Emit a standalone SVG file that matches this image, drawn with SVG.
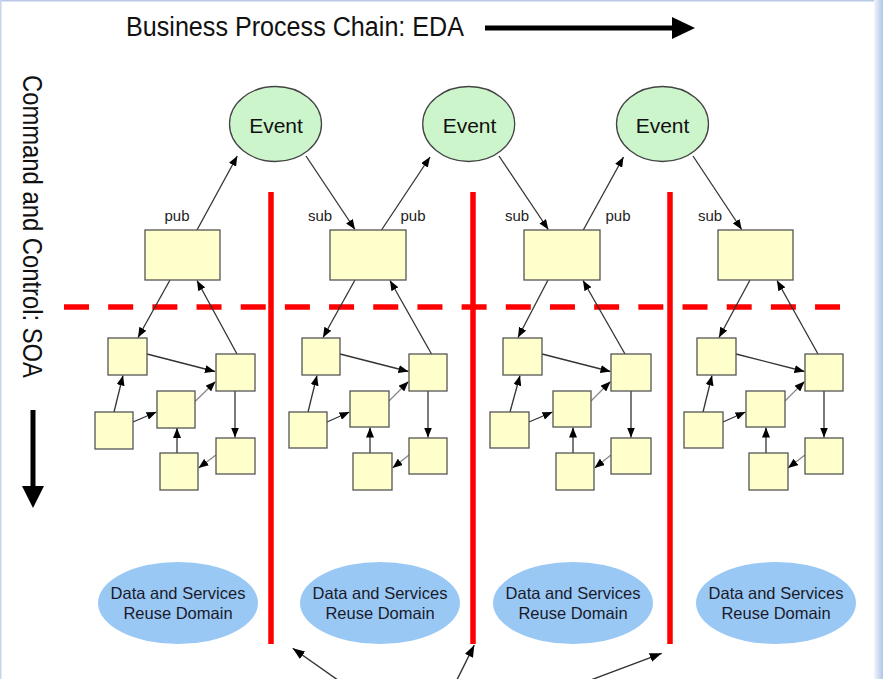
<svg xmlns="http://www.w3.org/2000/svg" width="883" height="679" viewBox="0 0 883 679">
<defs>
<style>
.box{fill:#ffffcc;stroke:#555;stroke-width:1.3}
.ev{fill:#ccf5cc;stroke:#444;stroke-width:1.3}
.dom{fill:#99c8f5;stroke:none}
.c{stroke:#333;stroke-width:1.3;fill:none;marker-end:url(#ah)}
.cl{stroke:#888;stroke-width:1.3;fill:none;marker-end:url(#ah)}
.cb{stroke:#333;stroke-width:1.4;fill:none;marker-end:url(#ahb)}
.red{stroke:#ff0000;stroke-width:5.5}
.t{font-family:"Liberation Sans",Arial,sans-serif;fill:#111}
.lbl{font-family:"Liberation Sans",Arial,sans-serif;font-size:15px;fill:#222;text-anchor:middle}
.evt{font-family:"Liberation Sans",Arial,sans-serif;font-size:21px;fill:#111;text-anchor:middle}
.dt{font-family:"Liberation Sans",Arial,sans-serif;font-size:16.5px;fill:#1a1a2a;text-anchor:middle}
</style>
<marker id="ah" markerUnits="userSpaceOnUse" markerWidth="10" markerHeight="8" refX="10" refY="4" orient="auto"><path d="M0,0 L10,4 L0,8 z" fill="#000"/></marker>
<marker id="ahb" markerUnits="userSpaceOnUse" markerWidth="12" markerHeight="9" refX="12" refY="4.5" orient="auto"><path d="M0,0 L12,4.5 L0,9 z" fill="#000"/></marker>
<linearGradient id="rg" x1="0" y1="0" x2="1" y2="0"><stop offset="0" stop-color="#f4f6fb"/><stop offset="1" stop-color="#afc6e8"/></linearGradient>
</defs>
<rect x="0" y="0" width="883" height="679" fill="#fff"/>
<rect x="0" y="0" width="883" height="1.5" fill="#b7c9e6"/>
<rect x="0" y="0" width="1.5" height="679" fill="#c8d4ea"/>
<rect x="874" y="0" width="9" height="679" fill="url(#rg)"/>

<g id="title">
<text class="t" x="126" y="36" font-size="27" textLength="338" lengthAdjust="spacingAndGlyphs">Business Process Chain: EDA</text>
<line x1="485" y1="28" x2="674" y2="28" stroke="#000" stroke-width="5"/>
<polygon points="672,17 695,28 672,39" fill="#000"/>
</g>
<g id="side-title">
<text class="t" transform="translate(23,75) rotate(90)" x="0" y="0" font-size="27" textLength="303" lengthAdjust="spacingAndGlyphs">Command and Control: SOA</text>
<line x1="33" y1="410" x2="33" y2="488" stroke="#000" stroke-width="5"/>
<polygon points="22,486 44,486 33,508" fill="#000"/>
</g>

<g id="separators">
<line class="red" x1="64" y1="307" x2="840" y2="307" stroke-dasharray="25 19.18"/>
<line class="red" x1="271" y1="192" x2="271" y2="644"/>
<line class="red" x1="473" y1="192" x2="473" y2="644"/>
<line class="red" x1="670" y1="192" x2="670" y2="644"/>
</g>

<g id="connectors">
<line class="c" x1="197" y1="230" x2="237.3" y2="156"/>
<line class="c" x1="306" y1="156" x2="355" y2="229.5"/>
<line class="c" x1="381.5" y1="230" x2="430" y2="157"/>
<line class="c" x1="499" y1="156" x2="548.3" y2="229.5"/>
<line class="c" x1="583.3" y1="230" x2="623.5" y2="157"/>
<line class="c" x1="693" y1="156" x2="741.7" y2="229.5"/>

<line class="c" x1="170" y1="280" x2="138" y2="337.5"/>
<line class="c" x1="237" y1="354" x2="197" y2="280.5"/>
<line class="c" x1="147" y1="354" x2="215" y2="371.5"/>
<line class="c" x1="114" y1="412" x2="123" y2="375.5"/>
<line class="c" x1="133" y1="422" x2="156.5" y2="412"/>
<line class="cl" x1="195" y1="401.5" x2="215.5" y2="381.5"/>
<line class="c" x1="177" y1="453" x2="177" y2="428"/>
<line class="c" x1="235" y1="391" x2="235" y2="437.5"/>
<line class="cl" x1="216" y1="455" x2="198.5" y2="468"/>

<line class="c" x1="355" y1="280" x2="323" y2="337.5"/>
<line class="c" x1="431.5" y1="354" x2="390" y2="280.5"/>
<line class="c" x1="340" y1="354" x2="408.5" y2="371.5"/>
<line class="c" x1="308" y1="412" x2="317" y2="375.5"/>
<line class="c" x1="327" y1="422" x2="349.5" y2="412"/>
<line class="cl" x1="389" y1="401" x2="408.5" y2="381.5"/>
<line class="c" x1="370" y1="453" x2="370" y2="427.5"/>
<line class="c" x1="428" y1="391" x2="428" y2="437.5"/>
<line class="cl" x1="409" y1="455" x2="392.5" y2="468"/>

<line class="c" x1="548" y1="280" x2="518" y2="337.5"/>
<line class="c" x1="625" y1="354" x2="583" y2="280.5"/>
<line class="c" x1="542" y1="354" x2="610.5" y2="371.5"/>
<line class="c" x1="510" y1="412" x2="520" y2="375.5"/>
<line class="c" x1="529" y1="422" x2="552.5" y2="412"/>
<line class="cl" x1="591" y1="401" x2="610.5" y2="381.5"/>
<line class="c" x1="573" y1="453" x2="573" y2="427.5"/>
<line class="c" x1="631" y1="391" x2="631" y2="437.5"/>
<line class="cl" x1="611" y1="455" x2="594.5" y2="468"/>

<line class="c" x1="750" y1="280" x2="719" y2="337.5"/>
<line class="c" x1="818" y1="354" x2="777" y2="280.5"/>
<line class="c" x1="736" y1="354" x2="804.5" y2="371.5"/>
<line class="c" x1="703" y1="412" x2="712" y2="375.5"/>
<line class="c" x1="723" y1="422" x2="745.5" y2="412"/>
<line class="cl" x1="785" y1="401" x2="804.5" y2="381.5"/>
<line class="c" x1="766" y1="453" x2="766" y2="427.5"/>
<line class="c" x1="824" y1="391" x2="824" y2="437.5"/>
<line class="cl" x1="805" y1="455" x2="788" y2="468"/>

<line class="cb" x1="426" y1="742" x2="292.7" y2="648.3"/>
<line class="cb" x1="426" y1="742" x2="474.3" y2="645"/>
<line class="cb" x1="426" y1="742" x2="661.7" y2="653.3"/>
</g>

<g id="labels">
<text class="lbl" x="177" y="221">pub</text>
<text class="lbl" x="320" y="221">sub</text>
<text class="lbl" x="413" y="221">pub</text>
<text class="lbl" x="517" y="221">sub</text>
<text class="lbl" x="618" y="221">pub</text>
<text class="lbl" x="710" y="221">sub</text>
</g>

<g id="event1"><ellipse class="ev" cx="275.5" cy="124" rx="46" ry="37.5"/><text class="evt" x="276" y="133">Event</text></g>
<g id="event2"><ellipse class="ev" cx="468.7" cy="124" rx="46" ry="37.5"/><text class="evt" x="469.5" y="133">Event</text></g>
<g id="event3"><ellipse class="ev" cx="662.5" cy="124" rx="46" ry="37.5"/><text class="evt" x="662.5" y="133">Event</text></g>

<g id="cluster1">
<rect id="big1" class="box" x="145" y="230" width="75" height="50"/>
<rect class="box" x="108" y="338" width="39" height="37"/>
<rect class="box" x="216" y="354" width="39" height="37"/>
<rect class="box" x="157" y="391" width="38" height="37"/>
<rect class="box" x="95" y="412" width="38" height="37"/>
<rect class="box" x="216" y="438" width="39" height="36"/>
<rect class="box" x="160" y="453" width="38" height="37"/>
</g>
<g id="cluster2">
<rect id="big2" class="box" x="330" y="230" width="76" height="50"/>
<rect class="box" x="302" y="338" width="38" height="37"/>
<rect class="box" x="409" y="354" width="38" height="37"/>
<rect class="box" x="350" y="391" width="39" height="36"/>
<rect class="box" x="289" y="412" width="38" height="36"/>
<rect class="box" x="409" y="438" width="38" height="36"/>
<rect class="box" x="353" y="453" width="39" height="37"/>
</g>
<g id="cluster3">
<rect id="big3" class="box" x="524" y="230" width="76" height="50"/>
<rect class="box" x="503" y="338" width="39" height="37"/>
<rect class="box" x="611" y="354" width="40" height="37"/>
<rect class="box" x="553" y="391" width="38" height="36"/>
<rect class="box" x="490" y="412" width="39" height="36"/>
<rect class="box" x="611" y="438" width="40" height="36"/>
<rect class="box" x="556" y="453" width="38" height="37"/>
</g>
<g id="cluster4">
<rect id="big4" class="box" x="718" y="230" width="75" height="50"/>
<rect class="box" x="697" y="338" width="39" height="37"/>
<rect class="box" x="805" y="354" width="38" height="37"/>
<rect class="box" x="746" y="391" width="39" height="36"/>
<rect class="box" x="684" y="412" width="39" height="36"/>
<rect class="box" x="805" y="438" width="38" height="36"/>
<rect class="box" x="749" y="453" width="39" height="37"/>
</g>

<g id="domain1"><ellipse class="dom" cx="178" cy="603" rx="80" ry="41"/><text class="dt" x="178" y="599">Data and Services</text><text class="dt" x="178" y="619">Reuse Domain</text></g>
<g id="domain2"><ellipse class="dom" cx="380" cy="603" rx="80" ry="41"/><text class="dt" x="380" y="599">Data and Services</text><text class="dt" x="380" y="619">Reuse Domain</text></g>
<g id="domain3"><ellipse class="dom" cx="573" cy="603" rx="80" ry="41"/><text class="dt" x="573" y="599">Data and Services</text><text class="dt" x="573" y="619">Reuse Domain</text></g>
<g id="domain4"><ellipse class="dom" cx="776" cy="603" rx="80" ry="41"/><text class="dt" x="776" y="599">Data and Services</text><text class="dt" x="776" y="619">Reuse Domain</text></g>
</svg>
